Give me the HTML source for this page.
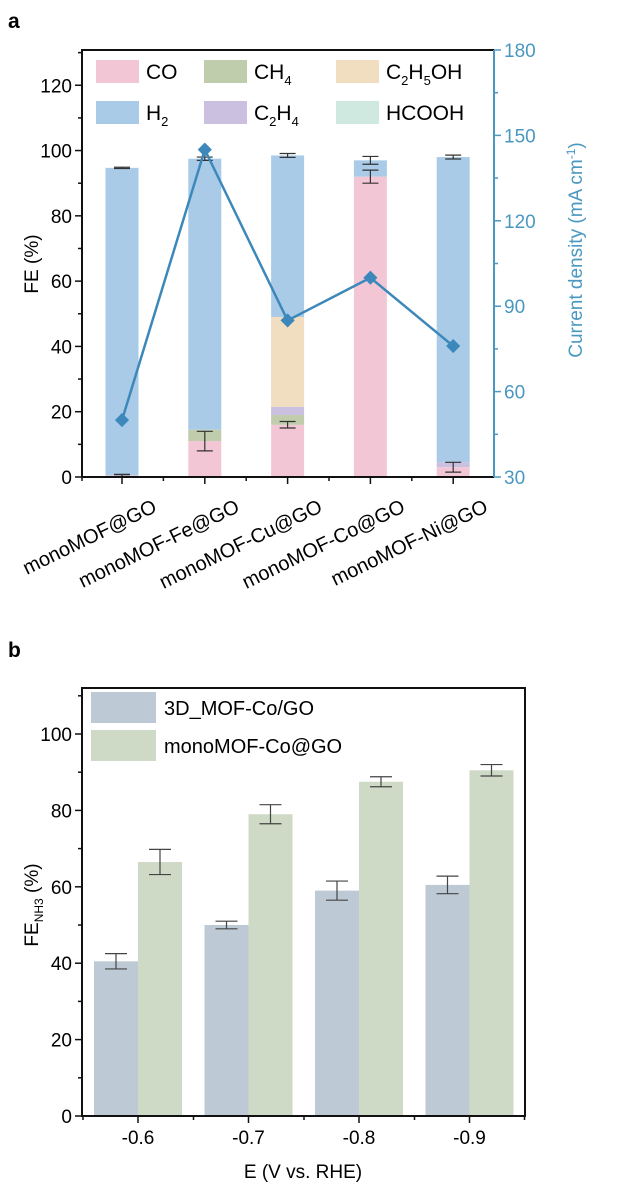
<!DOCTYPE html>
<html><head><meta charset="utf-8"><style>
html,body{margin:0;padding:0;background:#fff;}
svg{display:block;font-family:"Liberation Sans",Arial,sans-serif;}
</style></head><body>
<svg id="s" width="619" height="1197" viewBox="0 0 619 1197">
<text x="8" y="28" font-size="21" font-weight="bold">a</text>
<text x="8" y="657" font-size="21" font-weight="bold">b</text>
<g id="ga"></g><g id="gb"></g>
</svg>
<script>
// ===== Chart a data =====
const catsA = ["monoMOF@GO","monoMOF-Fe@GO","monoMOF-Cu@GO","monoMOF-Co@GO","monoMOF-Ni@GO"];
const seriesNames = ["CO","CH4","C2H4","C2H5OH","HCOOH","H2"];
const feCO = [0.5, 11, 16, 92, 3];
const feCH4 = [0, 3.5, 3, 0, 0];
const feC2H4 = [0, 0, 2.5, 0, 1.5];
const feC2H5OH = [0, 0, 27.5, 0, 0];
const feHCOOH = [0, 0, 0, 0, 0];
const feH2 = [94.2, 83, 49.5, 5, 93.5];
const errCO = [0.3, 3, 1, 2, 1.5];
const errTop = [0.2, 0.5, 0.6, 1.2, 0.6];
const current = [50, 145, 85, 100, 76];
const yTicksA = [0,20,40,60,80,100,120];
const yTicksR = [30,60,90,120,150,180];
// ===== Chart b data =====
const catsB = ["-0.6","-0.7","-0.8","-0.9"];
const fe3D = [40.5, 50, 59, 60.5];
const feMono = [66.5, 79, 87.5, 90.5];
const err3D = [2, 1, 2.5, 2.3];
const errMono = [3.3, 2.5, 1.3, 1.5];
const yTicksB = [0,20,40,60,80,100];

const NS="http://www.w3.org/2000/svg";
function mk(p,tag,at,txt){const e=document.createElementNS(NS,tag);for(const k in at)e.setAttribute(k,at[k]);if(txt!==undefined)e.textContent=txt;p.appendChild(e);return e;}
const FS=19;

// ---------- Chart A ----------
(function(){
const g=document.getElementById('ga');
const L=82,R=494,T=50,B=477;
const yA=v=>B-v*(B-T)/130.8;
const yR=v=>B-(v-30)*(B-T)/150;
const xA=i=>122+i*82.8;
const bw=33;
const colors={CO:"#f3c6d6",CH4:"#bfcdac",C2H4:"#cbc0e0",C2H5OH:"#f1ddbf",HCOOH:"#cfe9e0",H2:"#a9cbe8"};
const data={CO:feCO,CH4:feCH4,C2H4:feC2H4,C2H5OH:feC2H5OH,HCOOH:feHCOOH,H2:feH2};
catsA.forEach((c,i)=>{
  let acc=0;
  seriesNames.forEach(s=>{
    const v=data[s][i]; if(v<=0) return;
    const r=mk(g,'rect',{x:xA(i)-bw/2,y:yA(acc+v),width:bw,height:yA(acc)-yA(acc+v),fill:colors[s]});
    
    
    acc+=v;
  });
  const eb=(v,e)=>{const p=mk(g,'path',{d:`M${xA(i)-8},${yA(v+e)}H${xA(i)+8}M${xA(i)},${yA(v+e)}V${yA(v-e)}M${xA(i)-8},${yA(v-e)}H${xA(i)+8}`,stroke:"#333",fill:"none","stroke-width":1.2});
    
    };
  eb(feCO[i],errCO[i]);
  eb(acc,errTop[i]);
});
const fr=mk(g,'path',{d:`M${L},${B}V${T}H${R}`,stroke:"#111",fill:"none","stroke-width":2});


mk(g,'line',{x1:L,y1:B,x2:R,y2:B,stroke:"#111","stroke-width":2});
mk(g,'line',{x1:R,y1:T,x2:R,y2:B,stroke:"#4a98c0","stroke-width":2});
yTicksA.forEach(v=>{
  mk(g,'line',{x1:L-7,y1:yA(v),x2:L,y2:yA(v),stroke:"#111","stroke-width":1.5});
  mk(g,'line',{x1:L-4,y1:yA(v+10),x2:L,y2:yA(v+10),stroke:"#111","stroke-width":1.5});
  const t=mk(g,'text',{x:L-10,y:yA(v)+7,"text-anchor":"end","font-size":FS},v);
  
  
});
yTicksR.forEach(v=>{
  mk(g,'line',{x1:R,y1:yR(v),x2:R+7,y2:yR(v),stroke:"#4a98c0","stroke-width":1.5});
  if(v<180) mk(g,'line',{x1:R,y1:yR(v+15),x2:R+4,y2:yR(v+15),stroke:"#4a98c0","stroke-width":1.5});
  const t=mk(g,'text',{x:R+10,y:yR(v)+7,"font-size":FS,fill:"#4a98c0"},v);
  
  
});
catsA.forEach((c,i)=>{
  mk(g,'line',{x1:xA(i),y1:B,x2:xA(i),y2:B+7,stroke:"#111","stroke-width":1.5});
  if(i<4) mk(g,'line',{x1:xA(i)+41.4,y1:B,x2:xA(i)+41.4,y2:B+4,stroke:"#111","stroke-width":1.5});
  const ax=xA(i)+36, ay=B+34;
  const t=mk(g,'text',{x:ax,y:ay,"text-anchor":"end","font-size":20,transform:`rotate(-26 ${ax} ${ay})`},c);
  
  
});
mk(g,'line',{x1:L,y1:B,x2:L,y2:B+4,stroke:"#111","stroke-width":1.5});
const yt=mk(g,'text',{x:38,y:264,"text-anchor":"middle","font-size":FS,transform:"rotate(-90 38 264)"},"FE (%)");


const rt=mk(g,'text',{x:582,y:250,"text-anchor":"middle","font-size":FS,fill:"#4a98c0",transform:"rotate(-90 582 250)"});


rt.innerHTML='Current density (mA cm<tspan dy="-7" font-size="12">-1</tspan><tspan dy="7">)</tspan>';
const pts=current.map((v,i)=>xA(i)+','+yR(v)).join(' ');
const ln=mk(g,'polyline',{points:pts,fill:"none",stroke:"#3d88ba","stroke-width":2.5});


current.forEach((v,i)=>{
  const d=mk(g,'rect',{x:xA(i)-5,y:yR(v)-5,width:10,height:10,fill:"#3d88ba",transform:`rotate(45 ${xA(i)} ${yR(v)})`});
  
  
});
const leg=[["CO","CO",96,60],["CH4","CH<tspan dy='6' font-size='13'>4</tspan>",204,60],["C2H5OH","C<tspan dy='6' font-size='13'>2</tspan><tspan dy='-6'>H</tspan><tspan dy='6' font-size='13'>5</tspan><tspan dy='-6'>OH</tspan>",336,60],
["H2","H<tspan dy='6' font-size='13'>2</tspan>",96,101],["C2H4","C<tspan dy='6' font-size='13'>2</tspan><tspan dy='-6'>H</tspan><tspan dy='6' font-size='13'>4</tspan>",204,101],["HCOOH","HCOOH",336,101]];
leg.forEach(l=>{
  const r=mk(g,'rect',{x:l[2],y:l[3],width:43,height:23,fill:colors[l[0]]});
  
  
  const t=mk(g,'text',{x:l[2]+50,y:l[3]+19,"font-size":21});
  t.innerHTML=l[1];
  
  
});
})();

// ---------- Chart B ----------
(function(){
const g=document.getElementById('gb');
const L=82,R=525,T=688,B=1116;
const yB=v=>B-v*(B-734)/100;
const xB=i=>138+i*110.5;
const bw=44;
catsB.forEach((c,i)=>{
  const r1=mk(g,'rect',{x:xB(i)-bw,y:yB(fe3D[i]),width:bw,height:B-yB(fe3D[i]),fill:"#bdcad6"});
  
  
  const r2=mk(g,'rect',{x:xB(i),y:yB(feMono[i]),width:bw,height:B-yB(feMono[i]),fill:"#cfdac6"});
  
  
  const eb=(x,v,e)=>{const p=mk(g,'path',{d:`M${x-11},${yB(v+e)}H${x+11}M${x},${yB(v+e)}V${yB(v-e)}M${x-11},${yB(v-e)}H${x+11}`,stroke:"#444",fill:"none","stroke-width":1.2});
    
    };
  eb(xB(i)-bw/2,fe3D[i],err3D[i]);
  eb(xB(i)+bw/2,feMono[i],errMono[i]);
  mk(g,'line',{x1:xB(i),y1:B,x2:xB(i),y2:B+7,stroke:"#111","stroke-width":1.5});
  mk(g,'line',{x1:xB(i)-55,y1:B,x2:xB(i)-55,y2:B+4,stroke:"#111","stroke-width":1.5});
  const t=mk(g,'text',{x:xB(i),y:B+28,"text-anchor":"middle","font-size":FS},c);
  
  
});
mk(g,'line',{x1:xB(3)+55,y1:B,x2:xB(3)+55,y2:B+4,stroke:"#111","stroke-width":1.5});
const fr=mk(g,'rect',{x:L,y:T,width:R-L,height:B-T,fill:"none",stroke:"#111","stroke-width":2});


yTicksB.forEach(v=>{
  mk(g,'line',{x1:L-7,y1:yB(v),x2:L,y2:yB(v),stroke:"#111","stroke-width":1.5});
  mk(g,'line',{x1:L-4,y1:yB(v+10),x2:L,y2:yB(v+10),stroke:"#111","stroke-width":1.5});
  const t=mk(g,'text',{x:L-10,y:yB(v)+7,"text-anchor":"end","font-size":FS},v);
  
  
});
const yt=mk(g,'text',{x:38,y:905,"text-anchor":"middle","font-size":FS,transform:"rotate(-90 38 905)"});
yt.innerHTML="FE<tspan dy='5' font-size='12'>NH3</tspan><tspan dy='-5'> (%)</tspan>";


const xt=mk(g,'text',{x:303,y:1178,"text-anchor":"middle","font-size":FS},"E (V vs. RHE)");


[["#bdcad6","3D_MOF-Co/GO",692],["#cfdac6","monoMOF-Co@GO",730]].forEach(l=>{
  const r=mk(g,'rect',{x:91,y:l[2],width:65,height:31,fill:l[0]});
  
  
  const t=mk(g,'text',{x:164,y:l[2]+23,"font-size":20},l[1]);
  
  
});
})();
</script>
</body></html>
